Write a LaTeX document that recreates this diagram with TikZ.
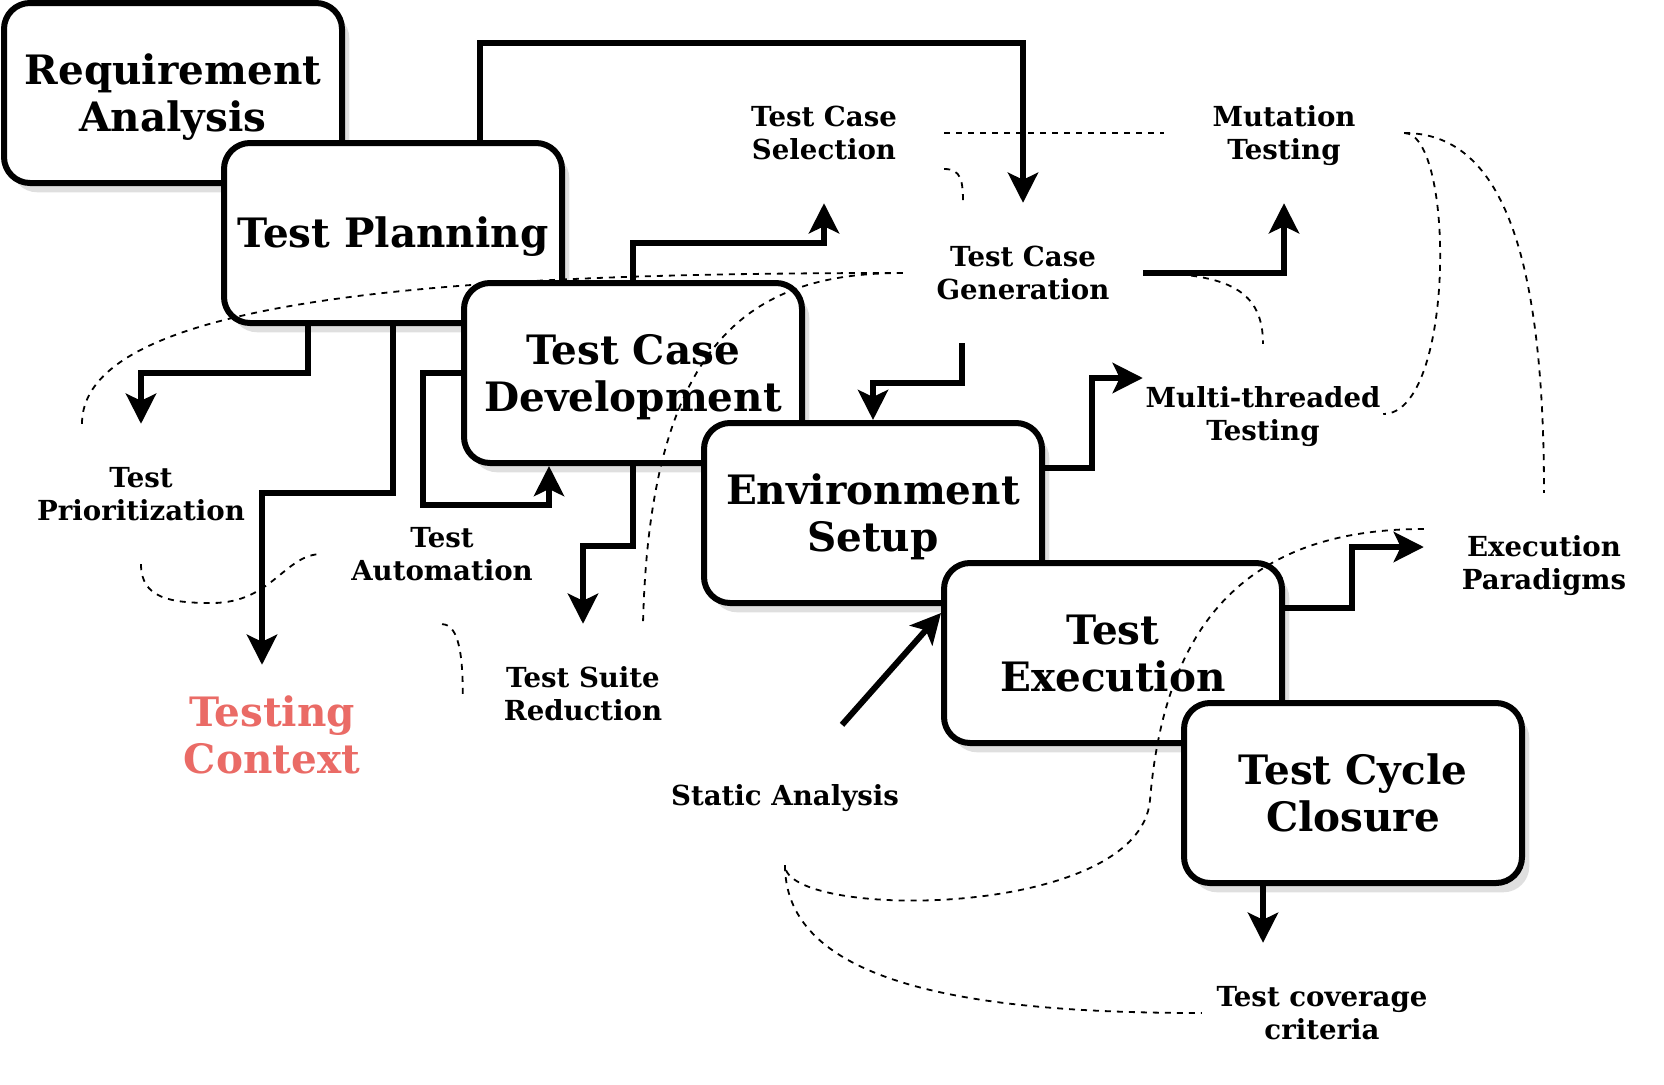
\documentclass[tikz,border=0pt]{standalone}
\usepackage{fontspec}
\setmainfont{DejaVu Serif}
\usetikzlibrary{arrows.meta,shadows}
\definecolor{ctxred}{HTML}{EA6B66}

\begin{document}
\begin{tikzpicture}[x=1pt,y=-1pt,
	phase/.style={draw, fill=white, line width=6pt, rounded corners=26pt, minimum width=338pt, minimum height=180pt, align=center, font=\bfseries\fontsize{40.5}{47.5}\selectfont, text height=88pt, text depth=11pt, drop shadow={shadow xshift=7.3pt, shadow yshift=-9.3pt, fill=black!25}},
	topic/.style={minimum width=240pt, minimum height=140pt, inner sep=0pt, align=center, font=\bfseries\fontsize{27.6}{33}\selectfont, text height=60pt, text depth=7pt},
	context/.style={minimum width=240pt, minimum height=140pt, inner sep=0pt, align=center, text=ctxred, font=\bfseries\fontsize{40.5}{47}\selectfont},
	flow/.style={line width=6pt, -{Stealth[length=30pt, width=30pt, inset=7pt]}},
	link/.style={line width=1.8pt, dash pattern=on 6pt off 6pt}]
	\useasboundingbox (0,0) rectangle (1664,1084);
	
	% Phases
	\node[phase] (req) at (173,93) {Requirement\\Analysis};
	\node[phase, text height=40.6pt] (plan) at (393,233) {Test Planning};
	\node[phase] (dev) at (633,373) {Test Case\\Development};
	\node[phase] (env) at (873,513) {Environment\\Setup};
	\node[phase] (test) at (1113,653) {Test\\Execution};
	\node[phase] (close) at (1353,793) {Test Cycle\\Closure};
	
	% Topics
	\node[topic] (tcsel) at (824,133) {Test Case\\Selection};
	\node[topic] (mut) at (1284,133) {Mutation\\Testing};
	\node[topic] (tcgen) at (1023,273) {Test Case\\Generation};
	\node[topic] (multi) at (1263,414) {Multi-threaded\\Testing};
	\node[topic] (prio) at (141,494) {Test\\Prioritization};
	\node[topic] (auto) at (442,554) {Test\\Automation};
	\node[topic] (suite) at (583,694) {Test Suite\\Reduction};
	\node[topic, text height=27pt] (static) at (785,795) {Static Analysis};
	\node[topic] (exec) at (1544,563) {Execution\\Paradigms};
	\node[topic] (cov) at (1322,1013) {Test coverage\\criteria};
	\node[context] (ctx) at (272,735) {Testing\\Context};
	
	% Flow from planning
	\draw[flow] ([xshift=87pt]plan.north) -- ++(0,-97) -| (tcgen.north);
	\draw[flow] ([xshift=-85pt]plan.south) -- ++(0,47) -| (prio.north);
	\draw[flow] (plan.south) -- ++(0,167) -| ([xshift=-10pt]ctx.north);
	
	% Flow from development
	\draw[flow] (dev.north) -- ++(0,-37) -| (tcsel.south);
	\draw[flow] (dev.west) -| ++(-38,132) -| ([xshift=-84pt]dev.south);
	\draw[flow] (dev.south) -- ++(0,80) -| (suite.north);
	
	% Flow from generation
	\draw[flow] ([xshift=-61pt]tcgen.south) -- ++(0,40) -| (env.north);
	\draw[flow] (tcgen.east) -| (mut.south);
	
	% Flow from setup, execution and closure
	\draw[flow] ([yshift=45pt]env.east) -- ++(47,0) |- ([yshift=36pt]multi.west);
	\draw[flow] ([yshift=45pt]test.east) -- ++(67,0) |- ([yshift=16pt]exec.west);
	\draw[flow] ([xshift=57pt]static.north) -- ([yshift=40pt]test.west);
	\coordinate (covtop) at ([xshift=-59pt]cov.north);
	\draw[flow] (close.south -| covtop) -- (covtop);
	
	% Dashed links between topics
	\draw[link] ([xshift=-59pt]prio.north) .. controls +(0,-134) and +(-403,0) .. (tcgen.west);
	\draw[link] (tcgen.west) .. controls +(-143,0) and +(7,-294) .. ([xshift=60pt]suite.north);
	\draw[link] ([yshift=-36pt]tcsel.east) .. controls +(17,0) and +(0,-22) .. ([xshift=-60pt]tcgen.north);
	\draw[link] (tcsel.east) -- (mut.west);
	\draw[link] (tcgen.east) .. controls +(87,0) and +(0,-52) .. (multi.north);
	\draw[link] (mut.east) .. controls +(51,0) and +(72,0) .. (multi.east);
	\draw[link] (mut.east) .. controls +(96,0) and +(0,-243) .. (exec.north);
	
	% Dashed links round static analysis
	\coordinate (bend) at (1150,800);
	\draw[link] ([yshift=34pt]exec.west) .. controls +(-174,0) and +(15,-180) .. (bend) .. controls +(-10,120) and +(0,55) .. (static.south);
	\draw[link] (static.south) .. controls +(0,127) and +(-203,0) .. (cov.west);
	
	% Dashed links round automation
	\coordinate (dip) at (212,603);
	\draw[link] (prio.south) .. controls +(0,34) and +(-42,0) .. (dip) .. controls +(60,0) and +(-37,0) .. (auto.west);
	\draw[link] (auto.south) .. controls +(15,0) and +(0,-45) .. (suite.west);
\end{tikzpicture}
\end{document}
